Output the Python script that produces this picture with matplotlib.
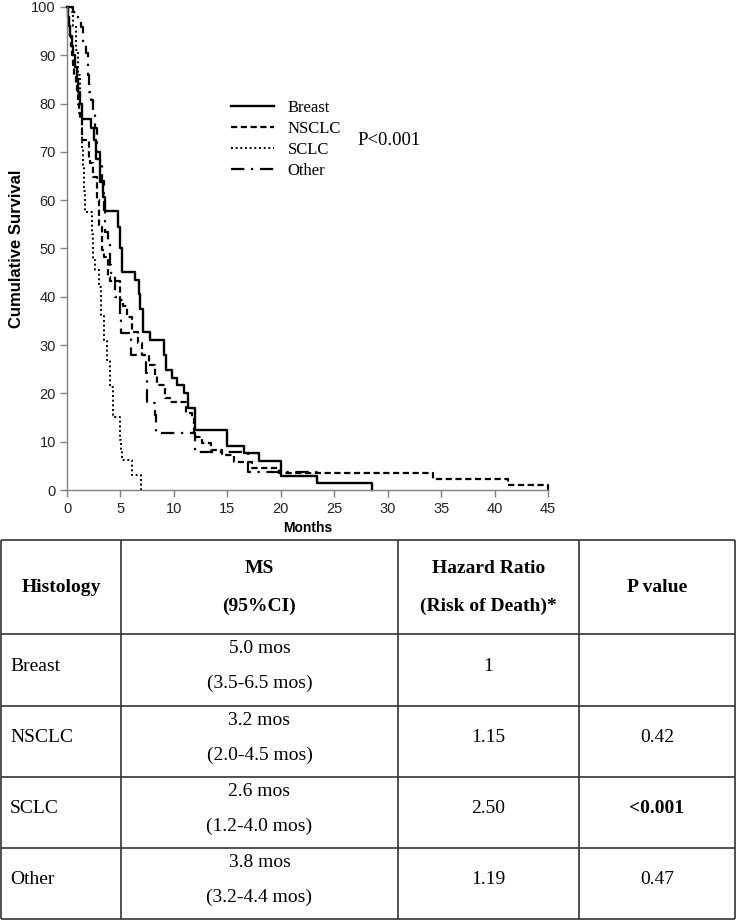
import numpy as np
import matplotlib.pyplot as plt

# Kaplan-Meier step points (months, cumulative survival %)
breast_t = [0, 0.1, 0.2, 0.3, 0.45, 0.6, 0.75, 0.9, 1.05, 1.2, 1.37, 2.2, 2.5, 2.75, 3.05, 3.35,
            3.6, 4.8, 5.0, 5.1, 6.35, 6.7, 6.85, 7.1, 7.15, 7.76, 9.05, 9.25, 9.8, 10.3, 10.9,
            11.35, 12.0, 15.0, 16.6, 18.0, 20.0, 23.4, 28.5]
breast_s = [100, 98, 96, 94, 92, 90, 87.5, 85, 82.5, 80, 76.8, 75, 72.5, 68.5, 63.8, 60.7,
            57.8, 54.5, 50, 45.2, 43.5, 40.5, 37.5, 34.5, 32.8, 31.1, 28, 24.8, 23.1, 21.7, 20.0,
            16.9, 12.4, 9.1, 7.6, 6.1, 2.9, 1.4, 0]

nsclc_t = [0, 0.1, 0.2, 0.3, 0.4, 0.5, 0.6, 0.7, 0.8, 0.95, 1.05, 1.15, 1.25, 1.45, 2.05, 2.14,
           2.4, 2.77, 3.0, 3.24, 3.5, 3.86, 4.0, 4.95, 5.2, 5.6, 6.05, 6.2, 6.6, 7.0, 7.7, 8.2,
           8.4, 9.2, 9.6, 11.1, 11.7, 11.9, 12.6, 13.5, 14.5, 15.6, 17.3, 19.8, 34.2, 41.3, 45]
nsclc_s = [100, 98, 96, 94, 92, 90, 88, 86, 84, 82, 80, 78, 76.6, 72.5, 68.3, 67.6,
           64.9, 60, 54.5, 49.7, 48.3, 44.2, 43.3, 39.3, 38, 35.9, 33.1, 32.8, 30.5, 28, 25.9, 23.8,
           21.7, 19.0, 18.3, 15.9, 15.2, 11.0, 9.7, 8.3, 7.2, 5.9, 4.5, 3.6, 2.2, 1.0, 0]

sclc_t = [0, 0.45, 0.6, 0.8, 1.0, 1.2, 1.37, 1.45, 1.52, 1.6, 1.7, 2.3, 2.45, 2.6, 3.0, 3.2,
          3.5, 3.7, 4.0, 4.33, 4.95, 5.05, 5.1, 6.05, 6.9]
sclc_s = [100, 99, 96, 91, 86, 80, 75, 71, 66.6, 62, 57.5, 53, 47.6, 45.5, 42.1, 36,
          31, 27, 21.4, 15.2, 10.3, 8, 6.2, 3.1, 0]

other_t = [0, 0.6, 1.0, 1.27, 1.5, 1.8, 1.95, 2.1, 2.2, 2.4, 2.6, 2.77, 3.1, 3.3, 3.5, 3.55,
           3.8, 4.0, 4.1, 4.45, 5.0, 5.05, 5.95, 7.4, 7.5, 8.2, 8.35, 12.0, 16.9, 23.5]
other_s = [100, 99, 97.5, 95.9, 93, 90.4, 86, 82.5, 80.7, 78, 75, 70, 67.5, 64, 58, 53.5,
           51, 46.5, 44.9, 40.0, 36, 32.6, 28, 24.2, 18, 15.5, 11.7, 7.9, 3.8, 3.8]

labels = ['Breast', 'NSCLC', 'SCLC', 'Other']

# table contents
col_heads = [['Histology'], ['MS', '(95%CI)'], ['Hazard Ratio', '(Risk of Death)*'], ['P value']]
ms = ['5.0 mos', '3.2 mos', '2.6 mos', '3.8 mos']
ms_ci = ['(3.5-6.5 mos)', '(2.0-4.5 mos)', '(1.2-4.0 mos)', '(3.2-4.4 mos)']
hr = ['1', '1.15', '2.50', '1.19']
pval = ['', '0.42', '<0.001', '0.47']

W, H = 737, 921
fig = plt.figure(figsize=(W / 100, H / 100), dpi=100)
ax = fig.add_axes([67 / W, 1 - 490 / H, 481 / W, 483 / H])

styles = [dict(ls='-', lw=1.7),
          dict(ls=(0, (2.8, 1.6)), lw=1.6),
          dict(ls=(0, (1, 1.4)), lw=1.4),
          dict(ls=(0, (6, 3, 1, 3)), lw=1.6)]
series = [(breast_t, breast_s), (nsclc_t, nsclc_s), (sclc_t, sclc_s), (other_t, other_s)]
for (t, s), st, lab in zip(series, styles, labels):
    ax.step(t, s, where='post', color='black', label=lab, clip_on=False, **st)

ax.set_xlim(0, 45)
ax.set_ylim(0, 100)
ax.set_xticks(np.arange(0, 46, 5))
ax.set_yticks(np.arange(0, 101, 10))
for side in ['top', 'right']:
    ax.spines[side].set_visible(False)
for side in ['left', 'bottom']:
    ax.spines[side].set_color('#808080')
    ax.spines[side].set_linewidth(1.0)
ax.tick_params(direction='out', length=5, color='#808080', width=1, labelsize=10.5,
               labelcolor='#222222')
ax.tick_params(axis='y', pad=3)
for lbl in ax.get_xticklabels() + ax.get_yticklabels():
    lbl.set_family('Liberation Sans')
ax.set_xlabel('Months', fontsize=10, fontweight='bold', family='Liberation Sans', labelpad=4)
ax.set_ylabel('Cumulative Survival', fontsize=12, fontweight='bold', family='Liberation Sans',
              labelpad=5)

leg = ax.legend(loc='upper left', bbox_to_anchor=(231 / W, 1 - 100 / H),
                bbox_transform=fig.transFigure, frameon=False, borderpad=0, borderaxespad=0,
                handlelength=2.6, handletextpad=0.8, labelspacing=0.3,
                prop={'family': 'Liberation Serif', 'size': 12})
fig.text(357 / W, 1 - 140 / H, 'P<0.001', family='Liberation Serif', fontsize=13.5,
         ha='left', va='center')

# table below the plot
tax = fig.add_axes([0, 0, 1, 1])
tax.set_xlim(0, W)
tax.set_ylim(H, 0)
tax.axis('off')
row_lines = [540, 634, 706, 777, 848, 919]
col_lines = [1, 121, 398, 579, 735]
tax.hlines(row_lines, col_lines[0], col_lines[-1], color='#333333', lw=1.2)
tax.vlines(col_lines, row_lines[0], row_lines[-1], color='#333333', lw=1.2)

serif = dict(family='Liberation Serif', fontsize=14)
hy = (row_lines[0] + row_lines[1]) / 2
for i, head in enumerate(col_heads):
    cx = (col_lines[i] + col_lines[i + 1]) / 2
    if len(head) == 1:
        tax.text(cx, hy, head[0], ha='center', va='center', fontweight='bold', **serif)
    else:
        tax.text(cx, hy - 19, head[0], ha='center', va='center', fontweight='bold', **serif)
        tax.text(cx, hy + 19, head[1], ha='center', va='center', fontweight='bold', **serif)

for r in range(len(labels)):
    cy = (row_lines[r + 1] + row_lines[r + 2]) / 2 - 4
    tax.text(col_lines[0] + 9, cy, labels[r], ha='left', va='center', **serif)
    cx = (col_lines[1] + col_lines[2]) / 2
    tax.text(cx, cy - 17.5, ms[r], ha='center', va='center', **serif)
    tax.text(cx, cy + 17.5, ms_ci[r], ha='center', va='center', **serif)
    tax.text((col_lines[2] + col_lines[3]) / 2, cy, hr[r], ha='center', va='center', **serif)
    tax.text((col_lines[3] + col_lines[4]) / 2, cy, pval[r], ha='center', va='center',
             fontweight='bold' if pval[r].startswith('<') else 'normal', **serif)

fig.savefig('out.png', dpi=100)
